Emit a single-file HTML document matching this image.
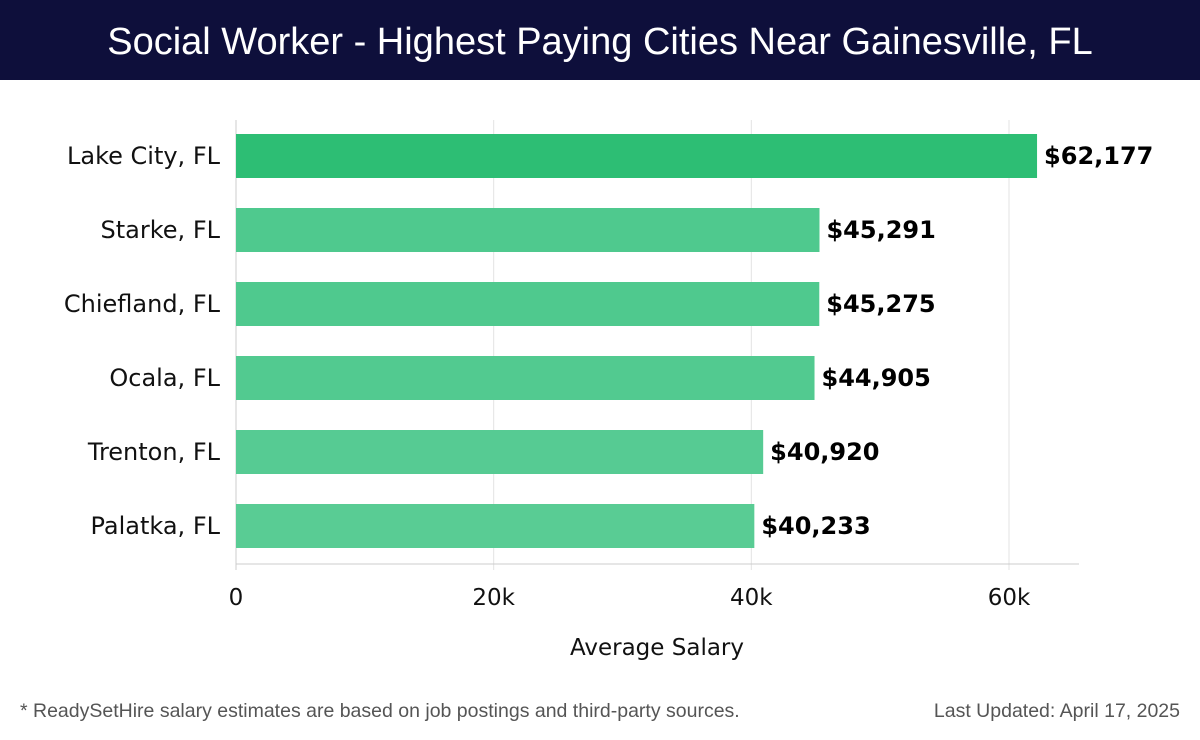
<!DOCTYPE html>
<html><head><meta charset="utf-8"><style>
body{margin:0;width:1200px;height:740px;background:#fff;font-family:"DejaVu Sans","Liberation Sans",sans-serif;overflow:hidden}
#hdr{position:absolute;left:0;top:0;width:1200px;height:80px;background:#0e0f3b;color:#fff;font-size:38px;text-align:center;line-height:84px;font-family:"Liberation Sans","DejaVu Sans",sans-serif}
.foot{position:absolute;top:700px;font-size:19.5px;color:#555;font-family:"Liberation Sans","DejaVu Sans",sans-serif}
</style></head><body>
<div id="hdr">Social Worker - Highest Paying Cities Near Gainesville, FL</div>
<svg id="chart" width="1200" height="740" style="position:absolute;left:0;top:0"></svg>
<div class="foot" style="left:20px">* ReadySetHire salary estimates are based on job postings and third-party sources.</div>
<div class="foot" style="right:20px">Last Updated: April 17, 2025</div>
<script>
const categories=["Lake City, FL","Starke, FL","Chiefland, FL","Ocala, FL","Trenton, FL","Palatka, FL"];
const values=[62177,45291,45275,44905,40920,40233];
const tickValues=[0,20000,40000,60000];
const tickLabels=["0","20k","40k","60k"];
const colors=["#2dbe74","#4fc98e","#4fc98e","#52ca90","#56cb93","#59cc94"];
const svg=document.getElementById('chart');
const NS="http://www.w3.org/2000/svg";
const x0=236,pxPer=(1009-236)/60000,xMax=1079;
const x=v=>x0+v*pxPer;
const yC=i=>156+i*74, bh=44;
function mk(t,a){const e=document.createElementNS(NS,t);for(const k in a)e.setAttribute(k,a[k]);svg.appendChild(e);return e;}
tickValues.forEach((v,i)=>{
 const g=mk('line',{x1:x(v),x2:x(v),y1:120,y2:570,stroke:'#e3e3e3','stroke-width':1});
 
 
 const t=mk('text',{x:x(v),y:605,'text-anchor':'middle','font-size':23,fill:'#111'});
 t.textContent=tickLabels[i];
 
 
});
const ax=mk('line',{x1:x0,x2:xMax,y1:564,y2:564,stroke:'#ccc'});


const ay=mk('line',{x1:x0,x2:x0,y1:120,y2:570,stroke:'#ccc'});


categories.forEach((c,i)=>{
 const r=mk('rect',{x:x0,y:yC(i)-bh/2,width:x(values[i])-x0,height:bh,fill:colors[i]});
 
 
 const l=mk('text',{x:220,y:yC(i)+8,'text-anchor':'end','font-size':24,fill:'#111'});
 l.textContent=c;
 
 
 const v=mk('text',{x:x(values[i])+7,y:yC(i)+8,'font-size':24,'font-weight':'bold',fill:'#000'});
 v.textContent='$'+values[i].toLocaleString('en-US');
 
 
});
const xt=mk('text',{x:657,y:655,'text-anchor':'middle','font-size':23,fill:'#111'});
xt.textContent="Average Salary";


</script>
</body></html>
